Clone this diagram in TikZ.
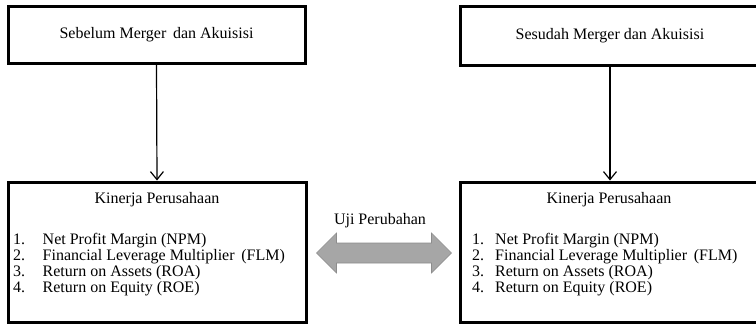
\documentclass[tikz,border=0pt]{standalone}
\usepackage{fontspec}
\setmainfont{Liberation Serif}
\usetikzlibrary{arrows.meta,calc}
\begin{document}
\begin{tikzpicture}[x=1pt,y=-1pt,>={Straight Barb[length=8pt,width=13pt]},
	kotak/.style={draw,line width=3pt,inner sep=0pt},
	teks/.style={font=\fontsize{16}{16.3}\selectfont,inner sep=0pt}]
\definecolor{abu}{HTML}{A6A6A6}
\definecolor{abugelap}{HTML}{8C8C8C}
\useasboundingbox (0,0) rectangle (756,325);
\clip (0,0) rectangle (756,325);

\def\daftar{%
	\begin{tabular}[t]{@{}l@{}}
	1.\\ 2.\\ 3.\\ 4.
	\end{tabular}}
\def\isi{%
	\begin{tabular}[t]{@{}l@{}}
	Net Profit Margin (NPM)\\
	Financial Leverage Multiplier \,(FLM)\\
	Return on Assets (ROA)\\
	Return on Equity (ROE)
	\end{tabular}}

% Kotak atas
\node[kotak,teks,minimum width=297,minimum height=57] (sebelum) at (156.5,35) {Sebelum Merger\ \,dan Akuisisi};
\node[kotak,teks,minimum width=300,minimum height=59] (sesudah) at (610,35.5) {Sesudah Merger dan Akuisisi};

% Kotak bawah
\node[kotak,minimum width=298,minimum height=140] (kinerjaA) at (157,252) {};
\node[kotak,minimum width=300,minimum height=140] (kinerjaB) at (610,252) {};

\node[teks,anchor=base] (judulA) at (157,203.5) {Kinerja Perusahaan};
\node[teks,anchor=base] (judulB) at (609,203.5) {Kinerja Perusahaan};

\node[teks,anchor=base west] (nomorA) at (13,244) {\daftar};
\node[teks,anchor=base west] (isiA) at (42.5,244) {\isi};
\node[teks,anchor=base west] (nomorB) at (472,244) {\daftar};
\node[teks,anchor=base west] (isiB) at (495,244) {\isi};

% Panah
\draw[->,line width=1.2pt] (sebelum.south) -- (kinerjaA.north);
\draw[->,line width=1.2pt] (sesudah.south) -- (kinerjaB.north);

% Uji Perubahan
\coordinate (ujikiri) at ($(kinerjaA.east)+(9,1)$);
\coordinate (ujikanan) at ($(kinerjaB.west)+(-7,1)$);
\draw[draw=abugelap,fill=abu,line width=0.6pt,line join=miter]
	(ujikiri) -- ++(20,-20) -- ++(0,10) -- ($(ujikanan)+(-20,-10)$)
	-- ++(0,-10) -- (ujikanan) -- ++(-20,20) -- ++(0,-10)
	-- ($(ujikiri)+(20,10)$) -- ++(0,10) -- cycle;
\node[teks] (ujilabel) at (380,221) {Uji Perubahan};

\end{tikzpicture}
\end{document}
